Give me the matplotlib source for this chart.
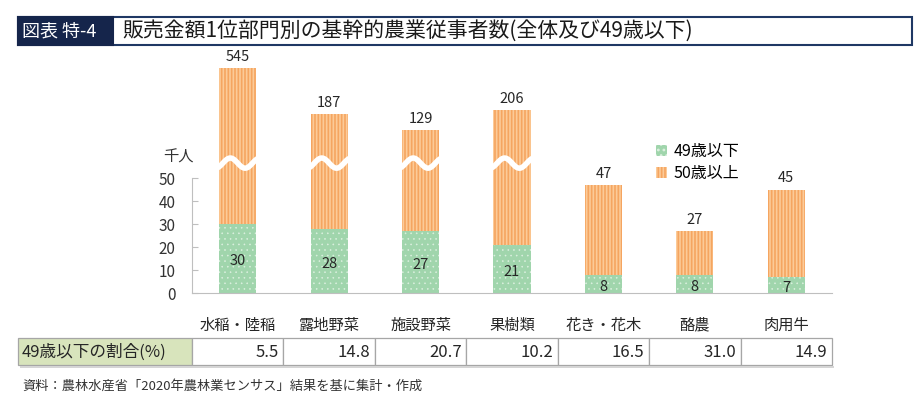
import matplotlib.pyplot as plt
import numpy as np
from matplotlib.patches import Rectangle, Patch

plt.rcParams['font.family'] = ['Noto Sans CJK JP', 'DejaVu Sans']

# data
categories = ['水稲・陸稲', '露地野菜', '施設野菜', '果樹類', '花き・花木', '酪農', '肉用牛']
total = [545, 187, 129, 206, 47, 27, 45]      # 千人
under49 = [30, 28, 27, 21, 8, 8, 7]           # 千人
share49 = [5.5, 14.8, 20.7, 10.2, 16.5, 31.0, 14.9]  # %
over50 = [t - u for t, u in zip(total, under49)]

title = '販売金額1位部門別の基幹的農業従事者数(全体及び49歳以下)'
source = '資料：農林水産省「2020年農林業センサス」結果を基に集計・作成'

GREEN = '#A0D5AC'
DOT = '#DDF0E0'
ORANGE = '#FCCB98'
ORANGE_D = '#F5A560'
NAVY = '#15254B'

W, H = 924, 397
fig = plt.figure(figsize=(W / 100, H / 100), dpi=100)


def fx(x):
    return x / W


def fy(y):
    return 1 - y / H


# broken axis: linear up to BRK, compressed above
BRK = 55.0
K = 18.7


def fwd(v):
    v = np.asarray(v, float)
    return np.where(v <= BRK, v, BRK + K * np.log(np.maximum(v, BRK) / BRK))


def inv(d):
    d = np.asarray(d, float)
    return np.where(d <= BRK, d, BRK * np.exp((np.maximum(d, BRK) - BRK) / K))


ax = fig.add_axes([fx(192), fy(293), fx(832) - fx(192), fy(50) - fy(293)])
ax.set_yscale('function', functions=(fwd, inv))

x = np.arange(len(categories))
bw = 0.405
plt.rcParams['hatch.linewidth'] = 0.4
ax.bar(x, under49, bw, color=GREEN, edgecolor=DOT, hatch='...', lw=0, zorder=2)
plt.rcParams['hatch.linewidth'] = 1.2
ax.bar(x, over50, bw, bottom=under49, color=ORANGE, edgecolor=ORANGE_D,
       hatch='|||||', lw=0, zorder=2)

# wavy break marks
t = np.linspace(-0.05, 1.05, 80)
for xi, tot in zip(x, total):
    if tot > BRK:
        xs = xi - bw / 2 + t * bw
        yd = 56.5 + 2.2 * np.cos(2 * np.pi * (t - 0.3) / 0.8)
        ax.plot(xs, inv(yd), color='white', lw=4, solid_capstyle='butt', zorder=3)

for xi, tot, u in zip(x, total, under49):
    ax.annotate(str(tot), (xi, tot), xytext=(0, 3), textcoords='offset points',
                ha='center', va='bottom', fontsize=10.5, color='#262626')
    ax.annotate(str(u), (xi, u / 2), xytext=(0, -2), textcoords='offset points',
                ha='center', va='center', fontsize=10.5, color='#262626', zorder=4)

ax.set_xlim(-0.5, 6.5)
ax.set_ylim(0, float(inv(105.7)))
ax.set_yticks(range(0, 51, 10), labels=[str(v) for v in range(0, 51, 10)])
ax.yaxis.set_minor_locator(plt.NullLocator())
ax.set_xticks(x, labels=categories)

for s in ['top', 'right']:
    ax.spines[s].set_visible(False)
ax.spines['left'].set_bounds(0, 50)
ax.spines['left'].set_color('#BFBFBF')
ax.spines['bottom'].set_color('#BFBFBF')
ax.tick_params(axis='y', direction='in', length=4, color='#BFBFBF',
               labelsize=11, pad=12, labelcolor='#333333')
ax.tick_params(axis='x', length=0, labelsize=11, pad=17, labelcolor='#262626')

fig.text(fx(178), fy(157), '千人', ha='center', va='center', fontsize=11, color='#333333')

plt.rcParams['hatch.linewidth'] = 0.4
h_young = Patch(facecolor=GREEN, edgecolor=DOT, hatch='...', lw=0)
plt.rcParams['hatch.linewidth'] = 1.2
h_old = Patch(facecolor=ORANGE, edgecolor=ORANGE_D, hatch='|||||', lw=0)
fig.legend([h_young, h_old], ['49歳以下', '50歳以上'], loc='upper left',
           bbox_to_anchor=(fx(656), fy(143)), frameon=False, fontsize=11.5,
           handlelength=0.7, handleheight=0.7, handletextpad=0.4,
           labelspacing=0.3, borderpad=0, borderaxespad=0)

# table row
left = -0.5 - (192 - 18) / ((832 - 192) / 7)
fig.patches.append(Rectangle((fx(20), fy(368)), fx(834) - fx(20), 2 / H,
                             transform=fig.transFigure, fc='#D5D5D5', ec='none'))
tab = fig.add_axes([fx(18), fy(365), fx(832) - fx(18), fy(338) - fy(365)])
tab.set_xlim(left, 6.5)
tab.set_ylim(0, 1)
tab.axis('off')
tab.add_patch(Rectangle((left, 0), -0.5 - left, 1, fc='#D8E4BC', ec='#A6A6A6',
                        lw=0.9, clip_on=False))
tab.text(left + 0.04, 0.48, '49歳以下の割合(%)', ha='left', va='center', fontsize=12,
         color='#262626')
for xi, v in zip(x, share49):
    tab.add_patch(Rectangle((xi - 0.5, 0), 1, 1, fc='white', ec='#A6A6A6',
                            lw=0.9, clip_on=False))
    tab.text(xi + 0.45, 0.48, f'{v:.1f}', ha='right', va='center', fontsize=12,
             color='#262626')

# title bar
fig.patches.append(Rectangle((fx(18), fy(45)), fx(912) - fx(18), fy(17) - fy(45),
                             transform=fig.transFigure, fc='white', ec='#1F3864', lw=1.5))
fig.patches.append(Rectangle((fx(18), fy(45)), fx(113) - fx(18), fy(17) - fy(45),
                             transform=fig.transFigure, fc=NAVY, ec=NAVY, lw=1.5))
fig.text(fx(22), fy(31), '図表 特-4', color='white', fontsize=13, va='center')
fig.text(fx(122), fy(31), title, color='#1a1a1a', fontsize=15, va='center')

fig.text(fx(22), fy(386), source, fontsize=9.5, va='center', color='#333333')

fig.savefig('out.png', dpi=100)
